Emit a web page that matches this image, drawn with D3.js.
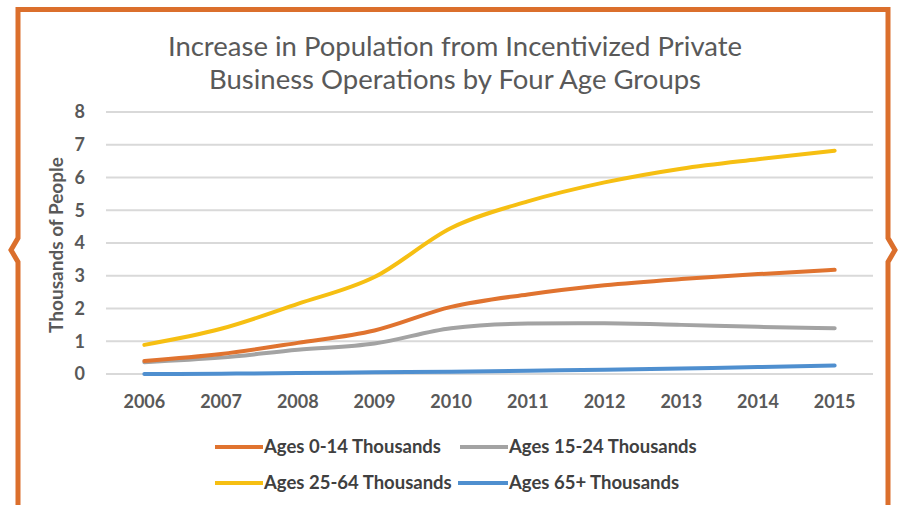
<!DOCTYPE html>
<html>
<head>
<meta charset="utf-8">
<script src="https://cdn.jsdelivr.net/npm/d3@7"></script>
<style>
  body { margin: 0; background: #fff; }
  svg { display: block; }
</style>
</head>
<body>
<script>
const w = 898;
const h = 505;

const years = ["2006", "2007", "2008", "2009", "2010", "2011", "2012", "2013", "2014", "2015"];
const ages0to14 = [0.40, 0.61, 0.95, 1.33, 2.05, 2.43, 2.71, 2.90, 3.05, 3.18];
const ages15to24 = [0.36, 0.50, 0.74, 0.93, 1.40, 1.54, 1.55, 1.50, 1.44, 1.40];
const ages25to64 = [0.89, 1.38, 2.14, 2.96, 4.46, 5.27, 5.85, 6.27, 6.56, 6.82];
const ages65plus = [0.00, 0.01, 0.03, 0.05, 0.07, 0.10, 0.13, 0.17, 0.21, 0.26];
const yTicks = [0, 1, 2, 3, 4, 5, 6, 7, 8];

const series = [
  { name: "Ages 0-14 Thousands", values: ages0to14, color: "#E0732F" },
  { name: "Ages 15-24 Thousands", values: ages15to24, color: "#A3A3A3" },
  { name: "Ages 25-64 Thousands", values: ages25to64, color: "#F6BF12" },
  { name: "Ages 65+ Thousands", values: ages65plus, color: "#4F8FCF" }
];

const plot = { left: 106, right: 873, top: 112, bottom: 374 };

const svg = d3.select("body").append("svg")
  .attr("width", w)
  .attr("height", h);

// orange frame with the little notches on the sides
const frame = d3.path();
frame.moveTo(18, h + 10);
frame.lineTo(18, 262);
frame.lineTo(11, 250);
frame.lineTo(18, 238);
frame.lineTo(18, 9.5);
frame.lineTo(888, 9.5);
frame.lineTo(888, 238);
frame.lineTo(895, 250);
frame.lineTo(888, 262);
frame.lineTo(888, h + 10);
svg.append("path")
  .attr("d", frame.toString())
  .attr("fill", "none")
  .attr("stroke", "#DB6F2C")
  .attr("stroke-width", 5);

// title
svg.append("g")
  .selectAll("text")
  .data(["Increase in Population from Incentivized Private", "Business Operations by Four Age Groups"])
  .enter()
  .append("text")
  .attr("x", 455)
  .attr("y", (d, i) => 56 + i * 33)
  .attr("text-anchor", "middle")
  .attr("font-family", "Lato")
  .attr("font-size", "27.5px")
  .attr("fill", "#595959")
  .text((d) => d);

const xScale = d3.scaleBand()
  .domain(years)
  .range([plot.left, plot.right]);

const yScale = d3.scaleLinear()
  .domain([0, 8])
  .range([plot.bottom, plot.top]);

// gridlines
svg.append("g")
  .selectAll("line")
  .data(yTicks)
  .enter()
  .append("line")
  .attr("x1", plot.left)
  .attr("x2", plot.right)
  .attr("y1", (d) => yScale(d))
  .attr("y2", (d) => yScale(d))
  .attr("stroke", "#D9D9D9")
  .attr("stroke-width", 2);

const yAxis = d3.axisLeft(yScale).tickValues(yTicks).tickSize(0).tickPadding(21);
const xAxis = d3.axisBottom(xScale).tickSize(0).tickPadding(21);

const gy = svg.append("g")
  .attr("transform", "translate(" + plot.left + ",0)")
  .call(yAxis);
const gx = svg.append("g")
  .attr("transform", "translate(0," + plot.bottom + ")")
  .call(xAxis);

[gx, gy].forEach((g) => {
  g.select(".domain").remove();
  g.selectAll("text")
    .attr("font-family", "Lato")
    .attr("font-weight", "bold")
    .attr("font-size", "18px")
    .attr("fill", "#595959");
});

svg.append("text")
  .attr("transform", "translate(63,245) rotate(-90)")
  .attr("text-anchor", "middle")
  .attr("font-family", "Lato")
  .attr("font-weight", "bold")
  .attr("font-size", "19px")
  .attr("fill", "#595959")
  .text("Thousands of People");

const line = d3.line()
  .x((d, i) => xScale(years[i]) + xScale.bandwidth() / 2)
  .y((d) => yScale(d))
  .curve(d3.curveMonotoneX);

// draw 65+ first so the others sit on top like in the original
const drawOrder = [series[3], series[1], series[0], series[2]];
svg.append("g")
  .selectAll("path")
  .data(drawOrder)
  .enter()
  .append("path")
  .attr("d", (d) => line(d.values))
  .attr("fill", "none")
  .attr("stroke", (d) => d.color)
  .attr("stroke-width", 4)
  .attr("stroke-linecap", "round");

// legend, two rows of two
const legendPos = [
  { x: 215, y: 447 },
  { x: 460, y: 447 },
  { x: 215, y: 483 },
  { x: 458, y: 483 }
];
const legend = svg.append("g")
  .selectAll("g")
  .data(series)
  .enter()
  .append("g")
  .attr("transform", (d, i) => "translate(" + legendPos[i].x + "," + legendPos[i].y + ")");

legend.append("line")
  .attr("x1", 0)
  .attr("x2", (d, i) => i === 3 ? 50 : 48)
  .attr("stroke", (d) => d.color)
  .attr("stroke-width", 4);

legend.append("text")
  .attr("x", (d, i) => i === 3 ? 51 : 49)
  .attr("dy", "0.35em")
  .attr("font-family", "Lato")
  .attr("font-weight", "bold")
  .attr("font-size", "18.5px")
  .attr("fill", "#404040")
  .text((d) => d.name);
</script>
</body>
</html>
